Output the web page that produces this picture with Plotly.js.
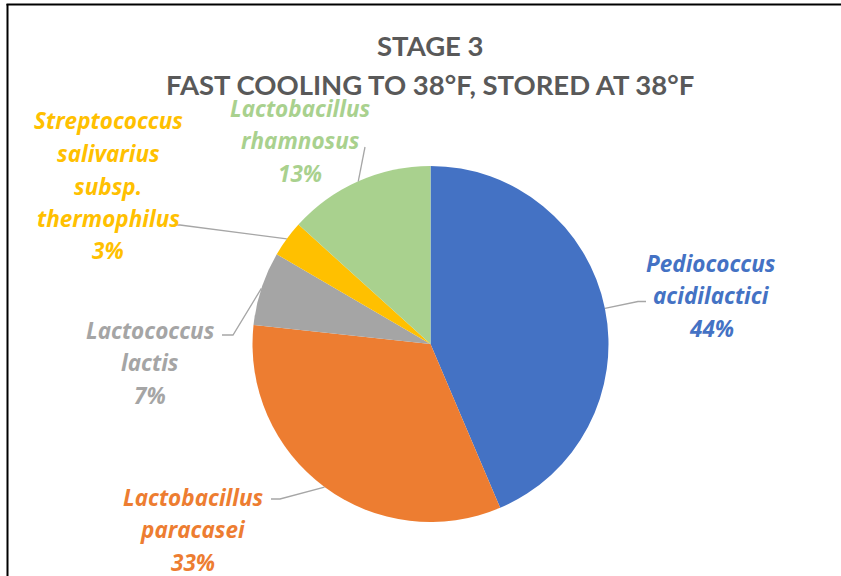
<!DOCTYPE html>
<html><head><meta charset="utf-8">
<script src="https://cdn.plot.ly/plotly-3.0.1.min.js"></script>
<style>html,body{margin:0;padding:0;background:#fff}#chart{width:841px;height:576px}</style>
</head><body><div id="chart"></div>
<script>
// ---- data ----
const categories = ['Pediococcus acidilactici','Lactobacillus paracasei','Lactococcus lactis','Streptococcus salivarius subsp. thermophilus','Lactobacillus rhamnosus'];
const labelLines = [['Pediococcus','acidilactici'],['Lactobacillus','paracasei'],['Lactococcus','lactis'],['Streptococcus','salivarius','subsp.','thermophilus'],['Lactobacillus','rhamnosus']];
const values = [43.6, 33.1, 6.7, 3.3, 13.3];
const colors = ['#4472C4','#ED7D31','#A5A5A5','#FFC000','#A9D18E'];
const titleLines = ['STAGE 3','FAST COOLING TO 38°F, STORED AT 38°F'];

// ---- layout helpers ----
const W = 841, H = 576;
const cx = 430.5, cy = 344, R = 178;
const px = x => x / W, py = y => 1 - y / H;

// label block placement (centre x, first line y) and leader elbows
const labelPos = [[711,263],[193,497],[150,330],[108,121],[300,108]];
const elbows = [[[638,301.5],[646,301.5]], [[280,499],[271,499]], [[233,335],[222,335]], [[180,225],[175,225]], [[365,147],[365,147]]];
const lineGap = 32.5;

const total = values.reduce((a,b)=>a+b,0);
const annotations = [];
const shapes = [];
let cum = 0;
values.forEach((v,i) => {
  const mid = (cum + v/2) / total * 2 * Math.PI; cum += v;
  const sx = cx + R * Math.sin(mid), sy = cy - R * Math.cos(mid);
  const pts = [[sx,sy]].concat(elbows[i]);
  shapes.push({type:'path', xref:'paper', yref:'paper',
    path: 'M' + pts.map(p => px(p[0]) + ',' + py(p[1])).join(' L'),
    line:{color:'#A6A6A6', width:1.3}});
  const lines = labelLines[i].concat([Math.round(v/total*100) + '%']);
  lines.forEach((t,k) => {
    annotations.push({xref:'paper', yref:'paper', x:px(labelPos[i][0]), y:py(labelPos[i][1] + k*lineGap),
      xanchor:'center', yanchor:'middle', showarrow:false, borderpad:0,
      text:'<b><i>' + t + '</i></b>', font:{family:'Open Sans, sans-serif', size:22.5, color:colors[i]}});
  });
});
titleLines.forEach((t,k) => {
  annotations.push({xref:'paper', yref:'paper', x:px(430), y:py(45 + k*39), xanchor:'center', yanchor:'middle',
    showarrow:false, borderpad:0, text:'<b>' + t + '</b>', font:{family:'Lato, sans-serif', size:27.5, color:'#595959'}});
});
// chart frame (top and left edges)
shapes.push({type:'line', xref:'paper', yref:'paper', x0:px(6.5), x1:1, y0:py(4.5), y1:py(4.5), line:{color:'#000', width:2}});
shapes.push({type:'line', xref:'paper', yref:'paper', x0:px(7.5), x1:px(7.5), y0:py(4), y1:0, line:{color:'#000', width:2}});

const trace = {type:'pie', labels:categories, values:values, sort:false, direction:'clockwise', rotation:0,
  marker:{colors:colors, line:{width:0}}, textinfo:'none', hoverinfo:'label+percent',
  domain:{x:[px(cx-R), px(cx+R)], y:[py(cy+R), py(cy-R)]}};

Plotly.newPlot('chart', [trace], {width:W, height:H, margin:{l:0,r:0,t:0,b:0}, showlegend:false,
  paper_bgcolor:'#fff', annotations:annotations, shapes:shapes}, {displayModeBar:false, staticPlot:true});
</script></body></html>
